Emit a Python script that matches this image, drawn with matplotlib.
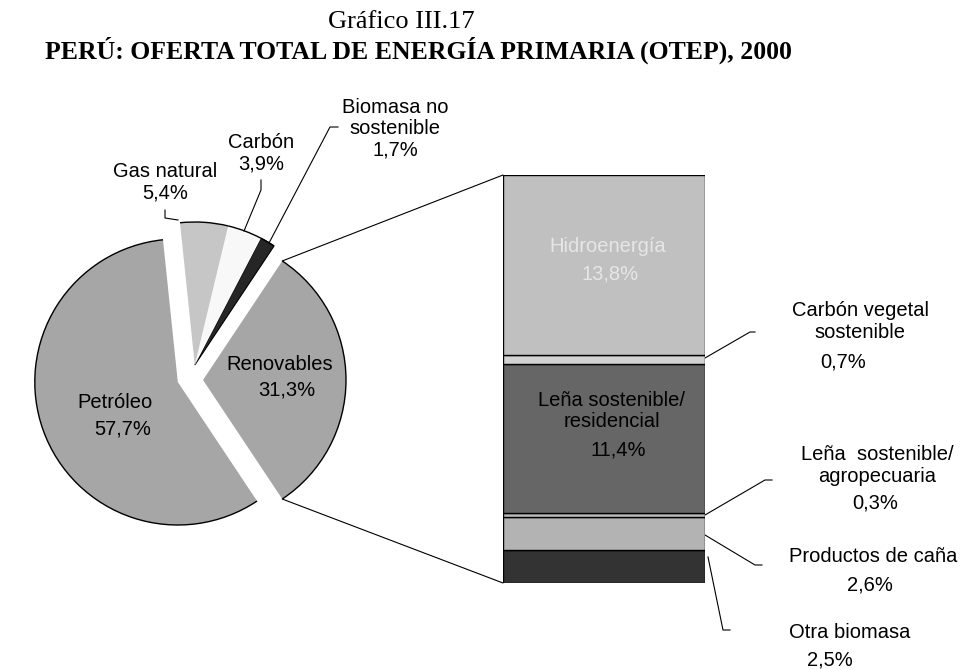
import numpy as np
import matplotlib
matplotlib.use("Agg")
import matplotlib.pyplot as plt
from matplotlib.patches import ConnectionPatch, Arc

W, H = 965, 670

# datos (%)
pie_labels = ["Renovables", "Biomasa no\nsostenible", "Carbón", "Gas natural", "Petróleo"]
pie_values = [31.3, 1.7, 3.9, 5.4, 57.7]
pie_colors = ["#a6a6a6", "#262626", "#f8f8f8", "#c6c6c6", "#a6a6a6"]

bar_labels = ["Otra biomasa", "Productos de caña", "Leña  sostenible/\nagropecuaria",
              "Leña sostenible/\nresidencial", "Carbón vegetal\nsostenible", "Hidroenergía"]
bar_values = [2.5, 2.6, 0.3, 11.4, 0.7, 13.8]
bar_colors = ["#333333", "#b3b3b3", "#bdbdbd", "#666666", "#d2d2d2", "#c0c0c0"]


def pct(v):
    return f"{v:.1f}".replace(".", ",") + "%"


def py(y):
    # pixel y (desde arriba) -> coordenada de datos
    return H - y


plt.rcParams["font.family"] = ["Liberation Sans", "DejaVu Sans"]
fig = plt.figure(figsize=(9.65, 6.7), dpi=100)
ax = fig.add_axes([0, 0, 1, 1])

center = (185.3, py(380))
radius = 143
start = -pie_values[0] / sum(pie_values) * 360 / 2
wedges, _ = ax.pie(pie_values, colors=pie_colors, startangle=start, counterclock=True,
                   radius=radius, center=center,
                   wedgeprops=dict(linewidth=0))

# separación de las porciones (desplazamiento de grupos)
offsets = [(17.7, 0), (9.5, 15), (9.5, 15), (9.5, 15), (-7.5, -2)]
for w, (dx, dy) in zip(wedges, offsets):
    w.set_center((center[0] + dx, center[1] + dy))
    # solo el borde exterior lleva linea
    ax.add_patch(Arc(w.center, 2 * radius, 2 * radius, theta1=w.theta1, theta2=w.theta2,
                     color="black", linewidth=1))
wedges[1].set_edgecolor("black")
wedges[1].set_linewidth(0.8)

ax.set_xlim(0, W)
ax.set_ylim(0, H)
ax.set_aspect("auto")
ax.axis("off")

fs = 14.5
# etiquetas del pie
ax.text(115, py(403), pie_labels[4], ha="center", va="center", fontsize=fs)
ax.text(123, py(429), pct(pie_values[4]), ha="center", va="center", fontsize=fs)
ax.text(280, py(365), pie_labels[0], ha="center", va="center", fontsize=fs)
ax.text(287, py(390), pct(pie_values[0]), ha="center", va="center", fontsize=fs)
ax.text(165, py(182), pie_labels[3] + "\n" + pct(pie_values[3]), ha="center", va="center",
        fontsize=fs, linespacing=1.15)
ax.text(261, py(153), pie_labels[2] + "\n" + pct(pie_values[2]), ha="center", va="center",
        fontsize=fs, linespacing=1.15)
ax.text(395, py(129), pie_labels[1] + "\n" + pct(pie_values[1]), ha="center", va="center",
        fontsize=fs, linespacing=1.15)

lk = dict(color="black", linewidth=0.8)
ax.plot([165, 165, 178], [py(210), py(218), py(220)], **lk)
ax.plot([261, 261, 244], [py(180), py(190), py(231)], **lk)
ax.plot([338, 330, 269], [py(127), py(127), py(243)], **lk)

# barra de desglose
bx0, bx1, by0, by1 = 503, 705, 583, 175
bax = fig.add_axes([bx0 / W, py(by0) / H, (bx1 - bx0) / W, (by0 - by1) / H])
total = sum(bar_values)
bottoms = np.concatenate([[0], np.cumsum(bar_values)[:-1]])
bax.bar(0, bar_values, bottom=bottoms, width=1, color=bar_colors,
        edgecolor="black", linewidth=1)
bax.set_xlim(-0.5, 0.5)
bax.set_ylim(0, total)
bax.axis("off")

# lineas de conexión
ren = wedges[0]
cx, cy = ren.center
for ang, yb in [(ren.theta2, total), (ren.theta1, 0)]:
    p = (cx + radius * np.cos(np.radians(ang)), cy + radius * np.sin(np.radians(ang)))
    con = ConnectionPatch(xyA=p, coordsA=ax.transData, xyB=(-0.5, yb), coordsB=bax.transData,
                          color="black", linewidth=0.8)
    fig.add_artist(con)

# textos dentro de la barra
tk = dict(ha="center", va="center", fontsize=fs, transform=ax.transData)
bax.text(608, py(247), bar_labels[5], color="#e6e6e6", **tk)
bax.text(610, py(274), pct(bar_values[5]), color="#e6e6e6", **tk)
bax.text(612, py(411), bar_labels[3], linespacing=1.15, **tk)
bax.text(618, py(450), pct(bar_values[3]), **tk)

# textos a la derecha
ax.text(860, py(322), bar_labels[4], ha="center", va="center", fontsize=fs, linespacing=1.2)
ax.text(843, py(362), pct(bar_values[4]), ha="center", va="center", fontsize=fs)
ax.text(877, py(466), bar_labels[2], ha="center", va="center", fontsize=fs, linespacing=1.2)
ax.text(875, py(503), pct(bar_values[2]), ha="center", va="center", fontsize=fs)
ax.text(873, py(557), bar_labels[1], ha="center", va="center", fontsize=fs)
ax.text(870, py(585), pct(bar_values[1]), ha="center", va="center", fontsize=fs)
ax.text(850, py(633), bar_labels[0], ha="center", va="center", fontsize=fs)
ax.text(830, py(660), pct(bar_values[0]), ha="center", va="center", fontsize=fs)

ax.plot([705, 750, 755], [py(358), py(332), py(332)], **lk)
ax.plot([705, 765, 772], [py(515), py(480), py(480)], **lk)
ax.plot([705, 755, 762], [py(535), py(565), py(565)], **lk)
ax.plot([708, 723, 730], [py(557), py(630), py(630)], **lk)

# titulo
ax.text(401, py(28), "Gráfico III.17", ha="center", va="baseline", fontsize=19,
        family="Liberation Serif")
ax.text(418, py(59), "PERÚ: OFERTA TOTAL DE ENERGÍA PRIMARIA (OTEP), 2000", ha="center",
        va="baseline", fontsize=18.5, family="Liberation Serif", weight="bold")

fig.savefig("out.png", dpi=100)
